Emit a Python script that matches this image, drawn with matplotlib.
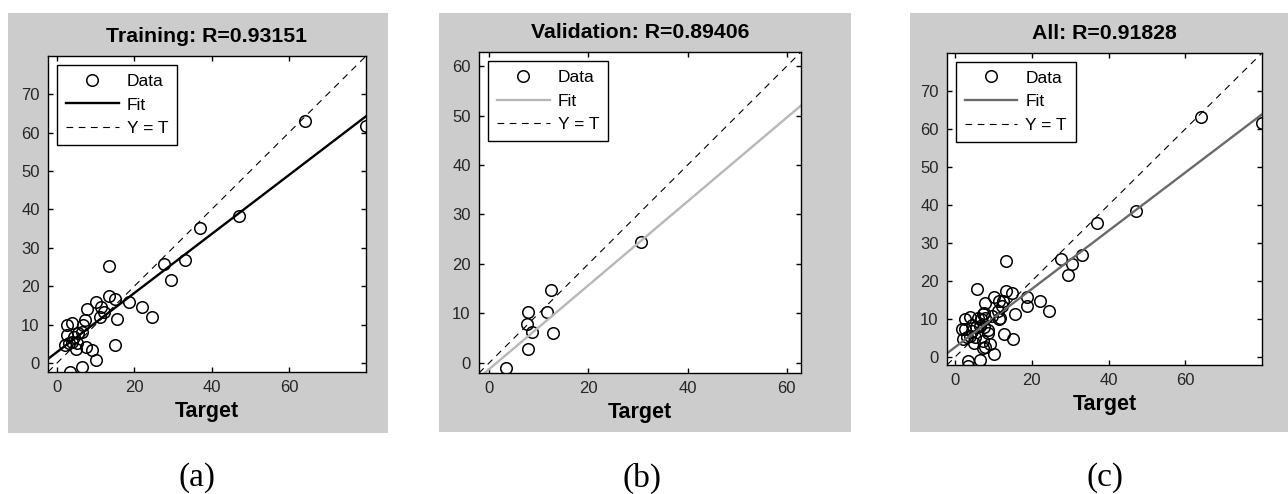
import numpy as np
import matplotlib.pyplot as plt
from matplotlib.patches import Rectangle

plt.rcParams['font.family'] = ['Liberation Sans', 'DejaVu Sans']

# targets and network outputs
train_t = [64.1, 47.1, 37.0, 33.2, 27.7, 29.4, 13.4, 18.7, 22.1, 24.5,
           15.5, 15.1, 10.2, 6.4, 3.4, 9.2, 7.4, 4.9, 2.1, 7.7,
           7.2, 10.2, 13.4, 14.9, 11.5, 11.1, 12.3, 2.6, 3.8, 2.6,
           4.3, 5.5, 3.8, 6.4, 6.8, 5.1, 3.0, 79.9]
train_y = [63.1, 38.4, 35.2, 26.9, 25.9, 21.6, 25.2, 15.9, 14.7, 12.1,
           11.4, 4.7, 0.9, -0.9, -2.3, 3.4, 4.3, 3.6, 4.7, 14.2,
           11.2, 15.9, 17.4, 16.8, 14.7, 12.1, 13.4, 9.9, 10.5, 7.3,
           6.9, 7.8, 5.6, 8.2, 9.9, 5.2, 5.2, 61.6]

val_t = [30.6, 12.4, 7.7, 11.6, 7.5, 8.6, 12.8, 7.7, 3.4]
val_y = [24.4, 14.7, 10.2, 10.2, 7.9, 6.2, 6.0, 2.7, -1.1]

test_t = [5.7, 18.8, 11.5, 8.6, 7.6, 6.0, 7.2, 4.5, 9.5, 1.9]
test_y = [17.9, 13.3, 10.0, 7.0, 11.6, 10.3, 2.4, 8.3, 10.8, 7.5]

all_t = train_t + val_t + test_t
all_y = train_y + val_y + test_y

# fit lines (slope, intercept)
train_fit = (0.768, 2.87)
val_fit = (0.848, -1.28)
all_fit = (0.766, 2.58)

titles = ['Training: R=0.93151', 'Validation: R=0.89406', 'All: R=0.91828']
sub_labels = ['(a)', '(b)', '(c)']

W, H = 1288, 494
fig = plt.figure(figsize=(W / 100, H / 100), dpi=100)
fig.patch.set_facecolor('white')


def px_box(x0, y0, x1, y1):
    return [x0 / W, (H - y1) / H, (x1 - x0) / W, (y1 - y0) / H]


# gray panel backgrounds
for (x0, y0, x1, y1) in [(8, 13, 388, 433), (439, 13, 851, 432), (910, 13, 1288, 432)]:
    b = px_box(x0, y0, x1, y1)
    fig.patches.append(Rectangle((b[0], b[1]), b[2], b[3], transform=fig.transFigure,
                                 facecolor='#cccccc', edgecolor='none', zorder=-5))

panels = [
    (px_box(48, 56, 366, 372), train_t, train_y, train_fit, 'black', (-2.3, 79.9), range(0, 80, 10)),
    (px_box(479, 52, 801, 373), val_t, val_y, val_fit, '#b8b8b8', (-2.1, 62.9), range(0, 70, 10)),
    (px_box(947, 53, 1262, 365), all_t, all_y, all_fit, '#6a6a6a', (-2.1, 80.0), range(0, 80, 10)),
]

for i, (pos, t, y, fit, fcol, lim, yt) in enumerate(panels):
    ax = fig.add_axes(pos)
    ax.set_zorder(1)
    ax.set_facecolor('white')
    ax.plot(t, y, 'o', mfc='none', mec='black', ms=8.3, mew=1.1, label='Data', clip_on=True)
    xs = np.array(lim)
    ax.plot(xs, fit[0] * xs + fit[1], color=fcol, lw=1.7, label='Fit')
    ax.plot(xs, xs, color='black', lw=0.8, ls=(0, (6, 5)), label='Y = T')
    ax.set_xlim(lim)
    ax.set_ylim(lim)
    ax.set_xticks([0, 20, 40, 60])
    ax.set_yticks(list(yt))
    ax.tick_params(direction='in', length=3.5, width=1, top=True, right=True,
                   labelsize=12, labelcolor='#262626', pad=6)
    for s in ax.spines.values():
        s.set_linewidth(1.0)
    ax.set_title(titles[i], fontsize=15.3, fontweight='bold', pad=10)
    ax.set_xlabel('Target', fontsize=15.5, fontweight='bold', labelpad=4)
    leg = ax.legend(loc='upper left', bbox_to_anchor=(0.028, 0.972), borderaxespad=0,
                    fontsize=12.5, fancybox=False, framealpha=1, edgecolor='black',
                    handlelength=3.05, handletextpad=0.46, labelspacing=0.5, borderpad=0.5)
    leg.get_frame().set_linewidth(1.0)

for lab, xc in zip(sub_labels, [197, 642, 1105]):
    fig.text(xc / W, (H - 478) / H, lab, ha='center', va='center',
             fontsize=24, family=['Liberation Serif', 'DejaVu Serif'])

plt.savefig('out.png', dpi=100)
